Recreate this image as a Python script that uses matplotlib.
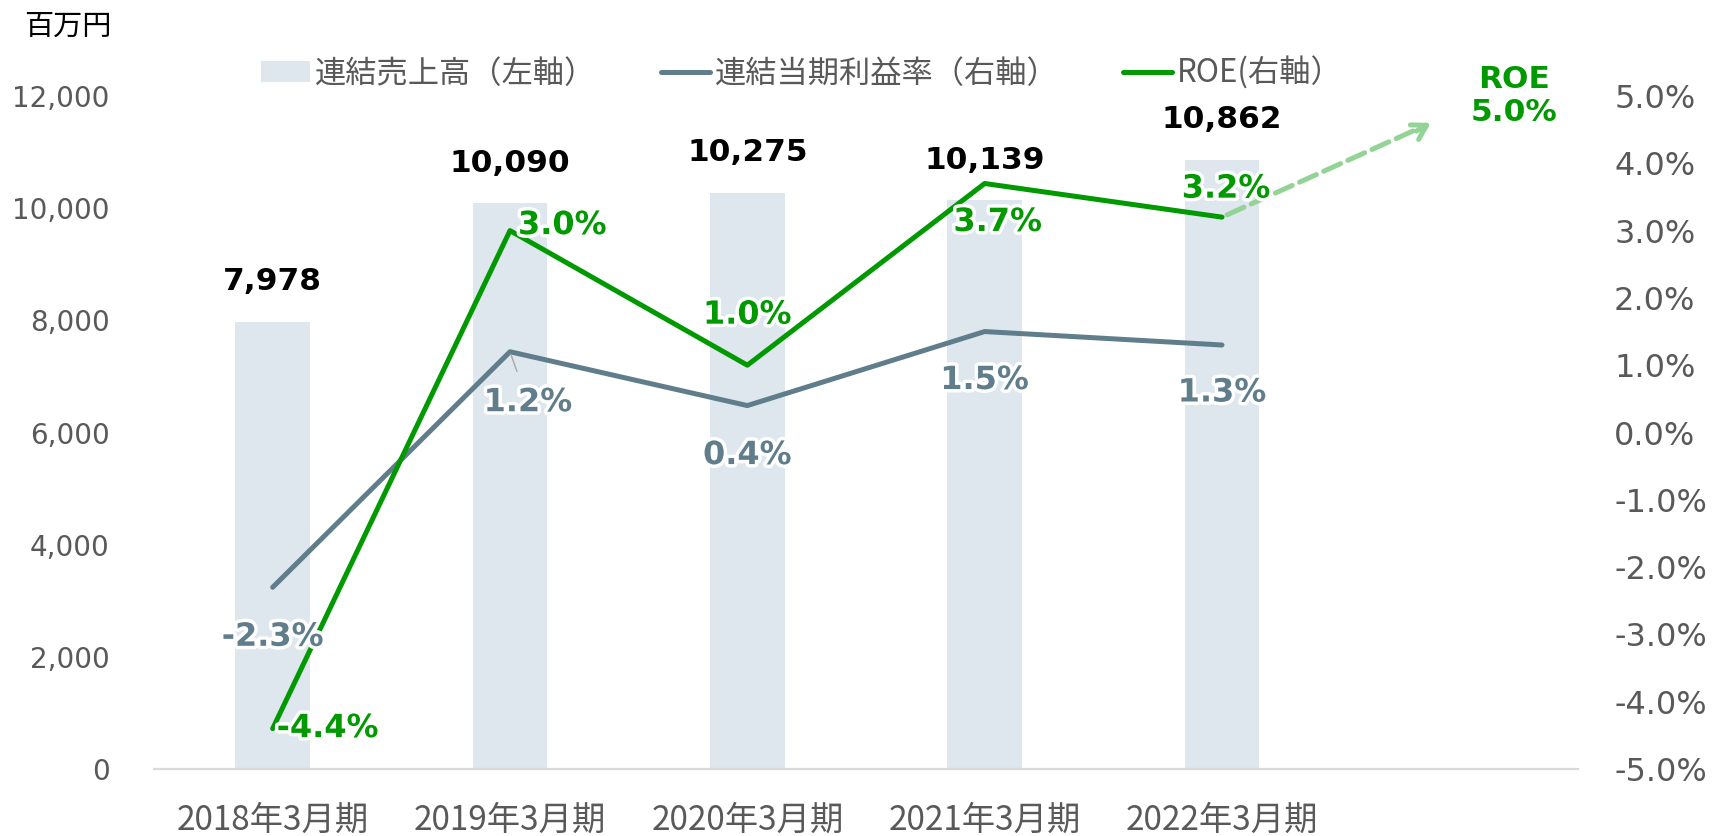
import matplotlib
matplotlib.use("Agg")
import matplotlib.pyplot as plt
import matplotlib.patheffects as pe
from matplotlib.patches import Patch
from matplotlib.lines import Line2D
import numpy as np

plt.rcParams['font.family'] = ['DejaVu Sans', 'Noto Sans CJK JP']

# data
periods = ['2018年3月期', '2019年3月期', '2020年3月期', '2021年3月期', '2022年3月期', '']
sales = [7978, 10090, 10275, 10139, 10862]
margin = [-2.3, 1.2, 0.4, 1.5, 1.3]
roe = [-4.4, 3.0, 1.0, 3.7, 3.2]
roe_target = 5.0
arrow_end = (4.88, 4.6)   # where the dashed target arrow stops (category index, %)
target_pos = 5.23         # category position of the target text

bar_color = '#dee6ee'
margin_color = '#607d8b'
roe_color = '#009900'
arrow_color = '#93d396'
tick_color = '#595959'
jp = 'Noto Sans CJK JP'

fig = plt.figure(figsize=(17.14, 8.36), dpi=100)
ax = fig.add_axes([154 / 1714, 1 - 769 / 836, (1578 - 154) / 1714, (769 - 96) / 836])
ax2 = ax.twinx()

x = np.arange(len(sales))
ax.bar(x, sales, width=0.316, color=bar_color, zorder=1)
ax.set_xlim(-0.5, len(periods) - 0.5)
ax.set_ylim(0, 12000)
ax.set_yticks(np.arange(0, 12001, 2000))
ax.set_yticklabels([f'{v:,}' for v in range(0, 12001, 2000)])
ax.set_xticks(np.arange(len(periods)))
ax.set_xticklabels(periods, family=jp, fontsize=24, color=tick_color)
ax.tick_params(axis='x', length=0, pad=24)
ax.tick_params(axis='y', length=0, pad=32, labelsize=20, labelcolor=tick_color)

ax2.set_ylim(-5, 5)
ax2.set_yticks(np.arange(-5, 5.01, 1))
ax2.set_yticklabels([f'{v:.1f}%' for v in np.arange(-5, 5.01, 1)])
ax2.tick_params(axis='y', length=0, pad=26, labelsize=23, labelcolor=tick_color)

for a in (ax, ax2):
    for s in ('top', 'left', 'right'):
        a.spines[s].set_visible(False)
    a.spines['bottom'].set_color('#d9d9d9')
    a.spines['bottom'].set_linewidth(1.5)

halo = [pe.withStroke(linewidth=5, foreground='white')]

# bar value labels
for i, v in enumerate(sales):
    ax.annotate(f'{v:,}', (i, v), xytext=(0, 40), textcoords='offset pixels',
                ha='center', va='center', fontsize=22.5, fontweight='bold', color='black')

# lines
ax2.plot(x, margin, color=margin_color, lw=3.6, solid_capstyle='round', zorder=3)
ax2.plot(x, roe, color=roe_color, lw=3.6, solid_capstyle='round', zorder=4)

# margin labels
m_off = [(0, -50), (18, -51), (0, -50), (0, -49), (0, -48)]
for i, (v, off) in enumerate(zip(margin, m_off)):
    kw = {}
    if i == 1:
        kw['arrowprops'] = dict(arrowstyle='-', color='#a6a6a6', lw=1, shrinkA=10, shrinkB=2)
    ax2.annotate(f'{v:.1f}%', (i, v), xytext=off, textcoords='offset pixels',
                 ha='center', va='center', fontsize=23, fontweight='bold',
                 color=margin_color, path_effects=halo, zorder=5, **kw)

# ROE labels
r_off = [(4, 0, 'left'), (8, 5, 'left'), (0, 50, 'center'), (13, -39, 'center'), (4, 28, 'center')]
for i, (v, (dx, dy, ha)) in enumerate(zip(roe, r_off)):
    ax2.annotate(f'{v:.1f}%', (i, v), xytext=(dx, dy), textcoords='offset pixels',
                 ha=ha, va='center', fontsize=23, fontweight='bold',
                 color=roe_color, path_effects=halo, zorder=5)

# dashed target arrow
last = len(roe) - 1
ax2.annotate('', xy=arrow_end, xytext=(last, roe[last]),
             arrowprops=dict(arrowstyle='-', color=arrow_color, lw=3.6, linestyle='--',
                             capstyle='round', shrinkA=4, shrinkB=4))
ax2.annotate('', xy=arrow_end, xytext=(arrow_end[0] - 0.06, arrow_end[1] - 0.12),
             arrowprops=dict(arrowstyle='->,head_length=1.0,head_width=0.6', color=arrow_color,
                             lw=3.6, capstyle='round', joinstyle='round', shrinkA=0, shrinkB=0))
ax2.text(target_pos, roe_target, f'ROE\n{roe_target:.1f}%', ha='center', va='center',
         fontsize=22.5, fontweight='bold', color=roe_color, linespacing=1.15)

# unit label
fig.text(68 / 1714, 1 - 27 / 836, '百万円', family=jp, fontsize=21, color='black',
         ha='center', va='center')

handles = [Patch(facecolor=bar_color, edgecolor='none'),
           Line2D([], [], color=margin_color, lw=3.6, solid_capstyle='round'),
           Line2D([], [], color=roe_color, lw=3.6, solid_capstyle='round')]
labels = ['連結売上高（左軸）', '連結当期利益率（右軸）', 'ROE(右軸）']
fig.legend(handles, labels, loc='center left', bbox_to_anchor=(261 / 1714, 1 - 73 / 836),
           ncol=3, frameon=False, borderpad=0, borderaxespad=0, handlelength=1.57,
           handleheight=0.68, handletextpad=0.17, columnspacing=2.05,
           prop={'family': jp, 'size': 22.5}, labelcolor=tick_color)

fig.savefig('out.png', dpi=100)
